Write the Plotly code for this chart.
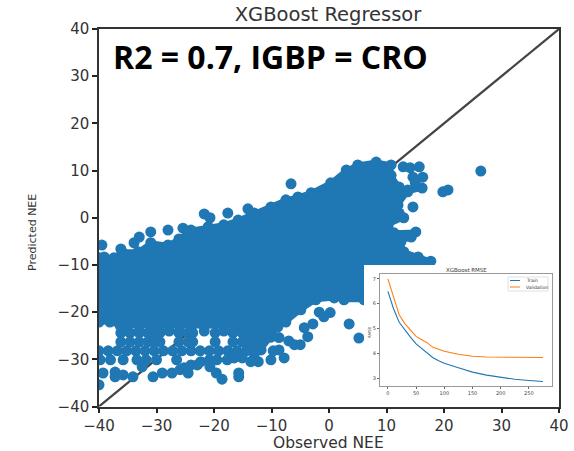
import plotly.graph_objects as go

W, H = 574, 451

# Dense core of the cloud: outline (observed, predicted)
core_observed = [-40,-39.1,-37.4,-36,-33.2,-31,-28,-26.1,-24,-21,-18.3,-15.8,-13,-10.1,-7.5,-5.4,-3.1,0.3,3,5,8.2,10.8,
                 10.8,12.2,13.7,16.2,13.7,12,12.2,13,10.3,11.3,15.1,14.3,12.5,13,15.5,17.7,16.7,6.1,2.6,0.9,-2.3,-4.9,
                 -7.5,-8.9,-10.1,-11.8,-13,-15.5,-16.5,-36.3,-38.1,-40]
core_predicted = [-8.5,-8.3,-8.5,-7.2,-7.2,-5.3,-5.8,-4.5,-2.6,-1.9,-1.5,-0.5,1,2.3,3.8,4.4,5.3,7.4,10.1,11.2,11.8,11.2,
                  9,6.5,5.9,6.3,5.5,2.7,1,0,-1.5,-3.2,-3,-4.1,-5.1,-7.2,-8.3,-9.2,-11,-17.4,-17.4,-17,-17.4,-19.5,
                  -22.1,-23.1,-25.3,-28,-29.7,-23.7,-23,-22.9,-22.1,-22.1]

# Individually visible points around the core
point_observed = [-39.5,-36.2,-33.9,-33,-31,-28,-25.4,-21.7,-20.7,-17.6,-14.1,-6.6,
                  12.9,14.1,15.7,16.3,14.6,15,26.4,20.7,19.8,14.6,
                  0.2,-1.7,-0.9,3.5,5.2,-2.8,-3.7,-4.3,-7,-5,-6,-8.7,-8.7,-7.8,-10.1,-12.3,-9.7,
                  -27.8,-26,-24,-21.7,-18.3,-35,-33,-31,-29.5,
                  -36.2,-34.6,-33,-31.5,-30.5,-29.4,-26.1,-24.5,-23.7,-19.8,-16.7,-15.1,-13.6,
                  -36.2,-34.6,-33,-31.5,-30.5,-29.4,-26.1,-24.5,-23.7,-19.8,-16.7,-15.1,-13.6,
                  -40,-38.4,-36.8,-35.2,-33.6,-32,-30.4,-28.8,-27.2,-25.6,-24,-22.4,-20.8,-19.2,-17.6,-16,-14.4,-12.8,
                  -39.8,-38,-35.8,-33.4,-31.8,-30,-26.5,-25.2,-24,-22.3,-20.8,-19.5,-17.7,-16.5,-15.1,-13.6,
                  -39.3,-37.2,-37.2,-35.8,-34.1,-32.5,-30.6,-29,-27.3,-25.9,-24.5,-22.9,-20.7,-19.6,-18.6,-15.7,-15.7,-40]
point_predicted = [-5.8,-6.6,-5.3,-4.1,-3,-2.6,-2.2,0.8,0,1,1.9,7.2,
                   10.8,10.6,10.8,8.6,8.6,7.4,9.9,5.9,5.5,2.3,
                   -20.1,-20,-21,-22.5,-25.5,-22.5,-25.2,-23.3,-26.1,-26.9,-26.9,-25.4,-28,-29.7,-30.1,-30.5,-28.2,
                   -24,-24,-24,-24,-24,-24,-24,-24,-24,
                   -24.4,-24.4,-24.4,-24.4,-24.4,-24.4,-24.4,-24.4,-24.4,-24.4,-24.4,-24.4,-24.4,
                   -26.3,-26.3,-26.3,-26.3,-26.3,-26.3,-26.3,-26.3,-26.3,-26.3,-26.3,-26.3,-26.3,
                   -28.2,-28.2,-28.2,-28.2,-28.2,-28.2,-28.2,-28.2,-28.2,-28.2,-28.2,-28.2,-28.2,-28.2,-28.2,-28.2,-28.2,-28.2,
                   -30.1,-30.1,-30.1,-30.1,-30.1,-30.1,-30.1,-31.8,-31.2,-30.5,-30.1,-30.1,-30.1,-29.7,-29.7,-30.5,
                   -32.9,-32.7,-33.7,-33.3,-33.7,-31.6,-33.7,-32.9,-32.9,-32.2,-32.9,-31.2,-31.6,-32.9,-34.2,-32.9,-33.7,-35.4]

identity_line = [-40, 40]
main_ticks = [-40, -30, -20, -10, 0, 10, 20, 30, 40]

# Inset: RMSE per boosting round
rounds = [0,10,20,30,40,50,60,70,80,90,100,125,150,175,200,225,250,275]
train_rmse = [6.5,5.8,5.25,4.93,4.65,4.38,4.2,4.0,3.82,3.7,3.6,3.42,3.24,3.12,3.02,2.95,2.9,2.86]
valid_rmse = [7.0,6.25,5.55,5.2,4.92,4.68,4.55,4.42,4.24,4.15,4.08,3.96,3.88,3.85,3.84,3.83,3.83,3.83]
inset_xticks = [0, 50, 100, 150, 200, 250]
inset_yticks = [3, 4, 5, 6, 7]
panel_x = [0, 1, 1, 0]
panel_y = [0, 0, 1, 1]

BLUE = "#1f77b4"
ORANGE = "#ff7f0e"
FONT = "DejaVu Sans"


def dx(a, b):
    return [a / W, b / W]


def dy(top, bottom):
    return [1 - bottom / H, 1 - top / H]


def px_line(x0, x1, y, color):
    return dict(type="line", xref="paper", yref="paper", x0=x0 / W, x1=x1 / W, y0=1 - y / H, y1=1 - y / H,
                line=dict(color=color, width=1), layer="above")


fig = go.Figure()
fig.add_trace(go.Scatter(x=identity_line, y=identity_line, mode="lines",
                         line=dict(color="#444444", width=2.2), showlegend=False, hoverinfo="skip"))
fig.add_trace(go.Scatter(x=core_observed, y=core_predicted, mode="lines+markers", fill="toself",
                         fillcolor=BLUE, line=dict(color=BLUE, width=5),
                         marker=dict(color=BLUE, size=11), showlegend=False))
fig.add_trace(go.Scatter(x=point_observed, y=point_predicted, mode="markers",
                         marker=dict(color=BLUE, size=11), showlegend=False))
# white backing panel of the inset
fig.add_trace(go.Scatter(x=panel_x, y=panel_y, mode="lines", fill="toself", fillcolor="white",
                         line=dict(width=0, color="white"), xaxis="x2", yaxis="y2",
                         showlegend=False, hoverinfo="skip"))
fig.add_trace(go.Scatter(x=rounds, y=train_rmse, mode="lines", name="Train", xaxis="x3", yaxis="y3",
                         line=dict(color=BLUE, width=1.1), showlegend=False))
fig.add_trace(go.Scatter(x=rounds, y=valid_rmse, mode="lines", name="Validation", xaxis="x3", yaxis="y3",
                         line=dict(color=ORANGE, width=1.1), showlegend=False))

main_axis = dict(range=[-40, 40], tickvals=main_ticks, tickformat="d", showgrid=False, zeroline=False,
                 showline=True, mirror=True, linecolor="#333333", linewidth=1.5, automargin=False,
                 ticks="outside", ticklen=5, tickwidth=1.5, tickcolor="#222222",
                 tickfont=dict(family=FONT, size=15, color="#333333"))
inset_axis = dict(showgrid=False, zeroline=False, showline=True, mirror=True, linecolor="#999999", linewidth=1.3,
                  automargin=False, ticks="outside", ticklen=2, tickwidth=0.6, tickcolor="#666666",
                  tickfont=dict(family=FONT, size=5, color="#444444"))
hidden = dict(visible=False, range=[0, 1], fixedrange=True, automargin=False)

fig.update_layout(
    template="none",
    width=W, height=H, autosize=False,
    margin=dict(l=0, r=0, t=0, b=0, pad=0),
    paper_bgcolor="white", plot_bgcolor="white",
    font=dict(family=FONT),
    showlegend=False,
    title=dict(text="XGBoost Regressor", x=328 / W, y=1 - 14 / H, xanchor="center", yanchor="middle",
               font=dict(family=FONT, size=19.5, color="#333333")),
    xaxis=dict(domain=dx(99, 559), anchor="y", **main_axis),
    yaxis=dict(domain=dy(29, 406.5), anchor="x", **main_axis),
    xaxis2=dict(domain=dx(364, 556), anchor="y2", **hidden),
    yaxis2=dict(domain=dy(265, 404), anchor="x2", **hidden),
    xaxis3=dict(domain=dx(380, 552), anchor="y3", range=[-14, 291], tickvals=inset_xticks, **inset_axis),
    yaxis3=dict(domain=dy(274, 386), anchor="x3", range=[2.68, 7.2], tickvals=inset_yticks, **inset_axis),
    shapes=[
        dict(type="rect", xref="paper", yref="paper", x0=508 / W, x1=548 / W, y0=1 - 291 / H, y1=1 - 277 / H,
             line=dict(color="#cccccc", width=0.6), fillcolor="white", layer="above"),
        px_line(510, 520, 280.5, BLUE),
        px_line(510, 520, 287, ORANGE),
    ],
    annotations=[
        dict(text="<b>R2 = 0.7, IGBP = CRO</b>", x=111 / W, y=1 - 57 / H, xref="paper", yref="paper",
             xanchor="left", yanchor="middle", showarrow=False,
             font=dict(family="Open Sans", size=32, color="black")),
        dict(text="Observed NEE", x=328 / W, y=1 - 443 / H, xref="paper", yref="paper",
             xanchor="center", yanchor="middle", showarrow=False,
             font=dict(family=FONT, size=15.5, color="#333333")),
        dict(text="Predicted NEE", x=32 / W, y=1 - 233 / H, xref="paper", yref="paper", textangle=-90,
             xanchor="center", yanchor="middle", showarrow=False,
             font=dict(family=FONT, size=11, color="#333333")),
        dict(text="XGBoost RMSE", x=466 / W, y=1 - 270 / H, xref="paper", yref="paper",
             xanchor="center", yanchor="middle", showarrow=False,
             font=dict(family=FONT, size=5.5, color="#333333")),
        dict(text="RMSE", x=369 / W, y=1 - 332 / H, xref="paper", yref="paper", textangle=-90,
             xanchor="center", yanchor="middle", showarrow=False,
             font=dict(family=FONT, size=4, color="#333333")),
        dict(text="Train", x=524 / W, y=1 - 280.5 / H, xref="paper", yref="paper",
             xanchor="left", yanchor="middle", showarrow=False,
             font=dict(family=FONT, size=4.5, color="#333333")),
        dict(text="Validation", x=524 / W, y=1 - 287 / H, xref="paper", yref="paper",
             xanchor="left", yanchor="middle", showarrow=False,
             font=dict(family=FONT, size=4.5, color="#333333")),
    ],
)

fig.write_html("out.html", config=dict(displayModeBar=False), post_script="document.body.style.margin='0';")
